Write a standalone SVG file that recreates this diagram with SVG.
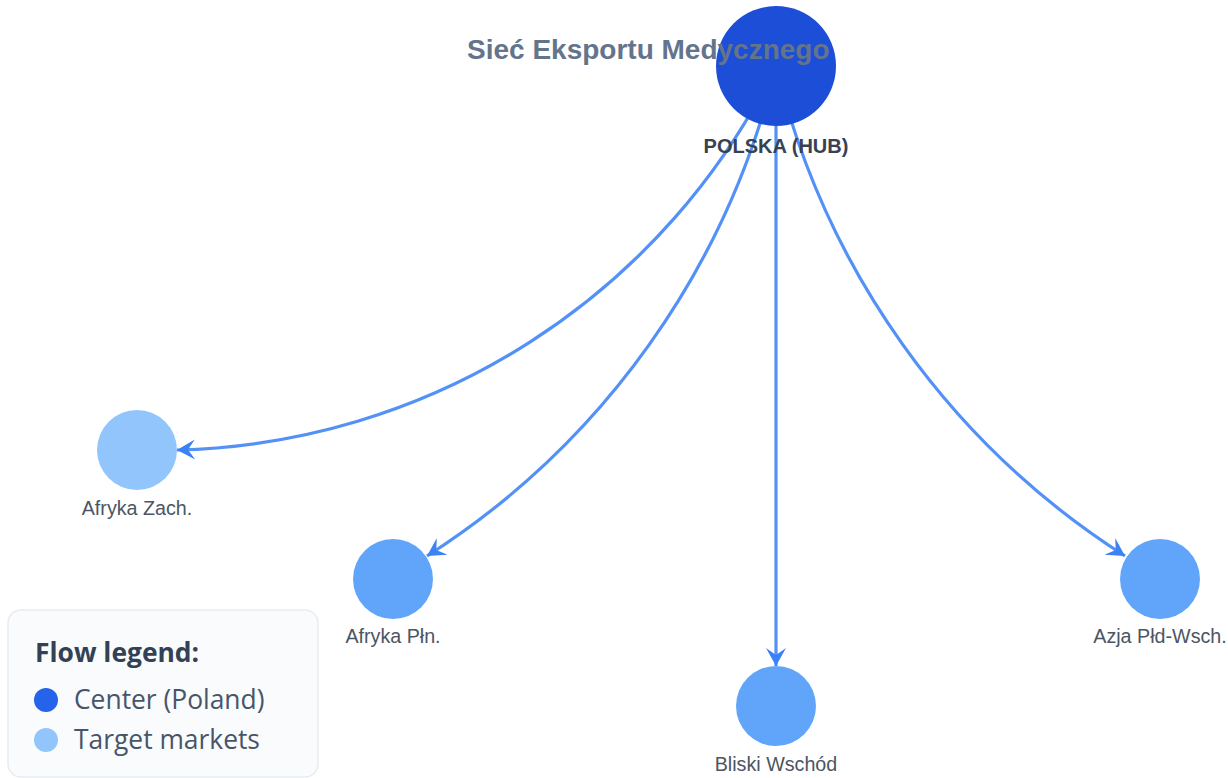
<svg xmlns="http://www.w3.org/2000/svg" width="1228" height="778" viewBox="0 0 1228 778">
  <defs>
    <style>
      .link { fill: none; stroke: #3b82f6; stroke-width: 3.2; stroke-opacity: 0.88; marker-end: url(#arrow); }
      .hub { fill: #1d4ed8; }
      .west { fill: #93c5fd; }
      .market { fill: #60a5fa; }
      .label { font-family: "Liberation Sans", Arial, sans-serif; font-size: 19.7px; fill: #4b5563; text-anchor: middle; }
      .hub-label { font-family: "Liberation Sans", Arial, sans-serif; font-size: 20px; font-weight: bold; fill: #374151; text-anchor: middle; }
      .title { font-family: "Liberation Sans", Arial, sans-serif; font-size: 28px; font-weight: bold; fill: #64748b; }
      .legend-box { fill: #fafbfc; stroke: #e8ecf1; stroke-width: 1.5; }
      .legend-title { font-family: "Open Sans", "Noto Sans", sans-serif; font-size: 26.4px; font-weight: bold; fill: #334155; }
      .legend-item { font-family: "Open Sans", "Noto Sans", sans-serif; font-size: 26.4px; fill: #475569; }
    </style>
    <marker id="arrow" markerUnits="userSpaceOnUse" markerWidth="24" markerHeight="24" viewBox="-20 -12 22 24" refX="0" refY="0" orient="auto">
      <path d="M0,0 L-18,-10 L-11,0 L-18,10 Z" fill="#3b82f6"/>
    </marker>
  </defs>

  <rect width="1228" height="778" fill="#ffffff"/>

  <!-- flows from the hub to each market -->
  <g id="links">
    <path class="link" d="M776,66 A685,685 0 0,1 177,450"/>
    <path class="link" d="M776,66 A804,804 0 0,1 427,556"/>
    <path class="link" d="M776,66 L776,666"/>
    <path class="link" d="M776,66 A804,804 0 0,0 1125,556"/>
  </g>

  <g id="node-polska">
    <circle class="hub" cx="776" cy="66" r="60"/>
    <text class="hub-label" x="776" y="153">POLSKA (HUB)</text>
  </g>

  <g id="node-afryka-zach">
    <circle class="west" cx="137" cy="450" r="40"/>
    <text class="label" x="137" y="515">Afryka Zach.</text>
  </g>

  <g id="node-afryka-pln">
    <circle class="market" cx="393" cy="579" r="40"/>
    <text class="label" x="393" y="643">Afryka Płn.</text>
  </g>

  <g id="node-bliski-wschod">
    <circle class="market" cx="776" cy="706" r="40"/>
    <text class="label" x="776" y="771">Bliski Wschód</text>
  </g>

  <g id="node-azja">
    <circle class="market" cx="1160" cy="579" r="40"/>
    <text class="label" x="1160" y="643">Azja Płd-Wsch.</text>
  </g>

  <text class="title" x="467" y="59">Sieć Eksportu Medycznego</text>

  <g id="legend">
    <rect class="legend-box" x="8" y="610" width="310" height="167" rx="13"/>
    <text class="legend-title" x="35" y="662">Flow legend:</text>
    <circle cx="46" cy="700" r="12" fill="#2563eb"/>
    <text class="legend-item" x="74" y="709">Center (Poland)</text>
    <circle cx="46" cy="740" r="12" fill="#93c5fd"/>
    <text class="legend-item" x="74" y="749">Target markets</text>
  </g>
</svg>
